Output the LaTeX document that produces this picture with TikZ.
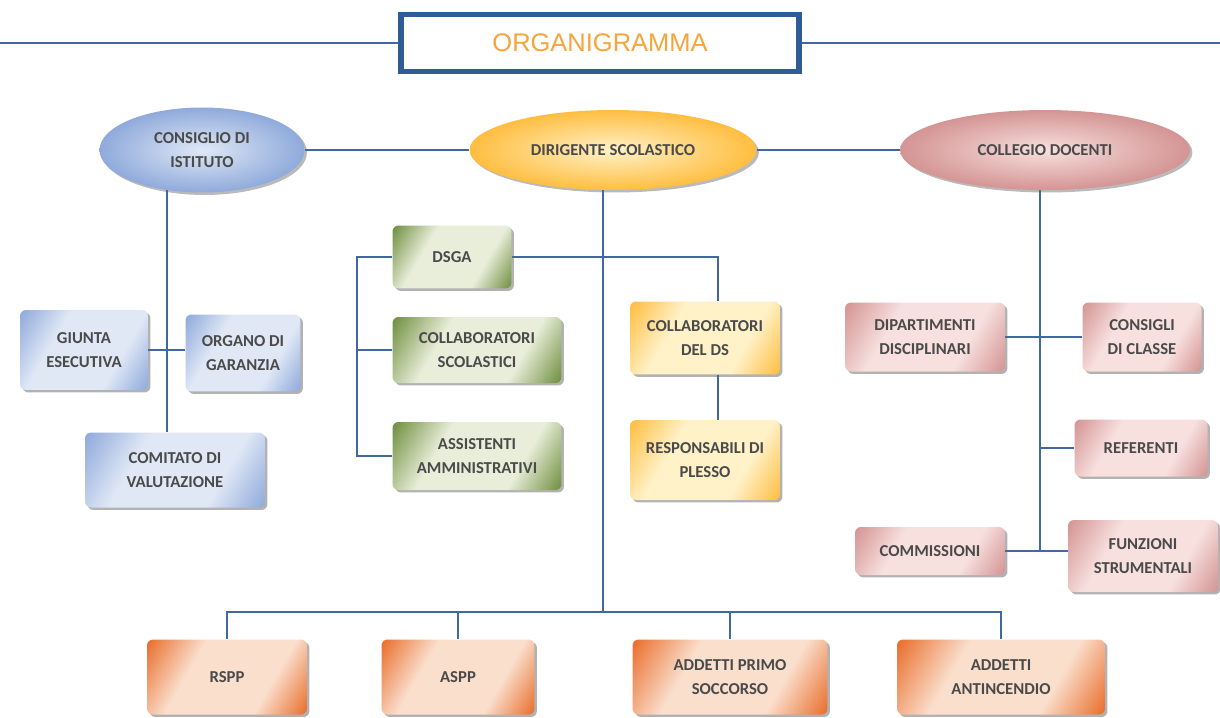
\documentclass[tikz,border=0pt]{standalone}
\usepackage{fontspec}
\setmainfont{Carlito}
\newfontfamily\titlefont{Liberation Sans}
\usetikzlibrary{shapes.geometric,shadows,backgrounds}

\definecolor{linkblue}{HTML}{41699F}
\definecolor{framebl}{HTML}{2F5C94}
\definecolor{titleor}{HTML}{F5A53A}
\definecolor{txtgray}{HTML}{4A4A4A}
\definecolor{bluedark}{HTML}{8FAADB}
\definecolor{bluelight}{HTML}{E0E8F6}
\definecolor{greendark}{HTML}{6F8F3F}
\definecolor{greenlight}{HTML}{E9EEDA}
\definecolor{yeldark}{HTML}{FFBE40}
\definecolor{yellight}{HTML}{FFF1C8}
\definecolor{pinkdark}{HTML}{D49494}
\definecolor{pinklight}{HTML}{F7E0DE}
\definecolor{oradark}{HTML}{E96E2C}
\definecolor{oralight}{HTML}{FADFCD}

\colorlet{unitdark}{bluedark}
\colorlet{unitlight}{bluelight}
\pgfdeclareverticalshading[unitdark,unitlight]{unitshade}{100bp}{color(0bp)=(unitdark); color(16bp)=(unitdark);
  color(34bp)=(unitlight); color(64bp)=(unitlight); color(84bp)=(unitdark); color(100bp)=(unitdark)}

\tikzset{
  unit/.style={rounded corners=3.4pt, align=center, inner sep=0pt, text=txtgray,
    font=\bfseries\fontsize{9.5}{14}\selectfont, shading=unitshade, shading angle=60,
    drop shadow={shadow xshift=1.4pt, shadow yshift=-1.4pt, opacity=0.5, fill=black!60}},
  organ/.style={ellipse, align=center, inner sep=0pt, text=txtgray,
    font=\bfseries\fontsize{9.5}{14}\selectfont,
    drop shadow={shadow xshift=1.4pt, shadow yshift=-1.4pt, opacity=0.45, fill=black!60}},
  paint/.style 2 args={/utils/exec={\colorlet{unitdark}{#1}\colorlet{unitlight}{#2}}},
  blueunit/.style={paint={bluedark}{bluelight}, unit},
  greenunit/.style={paint={greendark}{greenlight}, unit},
  yelunit/.style={paint={yeldark}{yellight}, unit},
  pinkunit/.style={paint={pinkdark}{pinklight}, unit},
  oraunit/.style={paint={oradark}{oralight}, unit},
  link/.style={draw=linkblue, line width=1.4pt}
}

\begin{document}
\begin{tikzpicture}[x=0.02cm, y=-0.02cm]
  \useasboundingbox (0,0) rectangle (1220,717);

  \node[draw=framebl, line width=3.4pt, fill=white, minimum width=7.96cm, minimum height=1.14cm,
    text=titleor, font=\titlefont\fontsize{14.5}{16}\selectfont] (title) at (600,43) {ORGANIGRAMMA};

  % organi collegiali
  \node[organ, inner color=bluelight, outer color=bluedark, minimum width=4.1cm, minimum height=1.7cm]
    (cdi) at (202,150) {CONSIGLIO DI\\ISTITUTO};
  \node[organ, inner color=yellight, outer color=yeldark, minimum width=5.74cm, minimum height=1.6cm]
    (ds) at (613,150) {DIRIGENTE SCOLASTICO};
  \node[organ, inner color=pinklight, outer color=pinkdark, minimum width=5.8cm, minimum height=1.6cm]
    (cd) at (1045,150) {COLLEGIO DOCENTI};

  % consiglio di istituto
  \node[blueunit, minimum width=2.56cm, minimum height=1.6cm] (giu) at (84,350) {GIUNTA\\ESECUTIVA};
  \node[blueunit, minimum width=2.3cm, minimum height=1.54cm] (org) at (243,353) {ORGANO DI\\GARANZIA};
  \node[blueunit, minimum width=3.6cm, minimum height=1.5cm] (com) at (175,470) {COMITATO DI\\VALUTAZIONE};

  % dsga
  \node[greenunit, minimum width=2.38cm, minimum height=1.26cm] (dsga) at (452,257) {DSGA};
  \node[greenunit, minimum width=3.38cm, minimum height=1.32cm] (csco) at (477,350) {COLLABORATORI\\SCOLASTICI};
  \node[greenunit, minimum width=3.38cm, minimum height=1.36cm] (assi) at (477,456) {ASSISTENTI\\AMMINISTRATIVI};

  % staff del ds
  \node[yelunit, minimum width=3cm, minimum height=1.46cm] (cds) at (705,338) {COLLABORATORI\\DEL DS};
  \node[yelunit, minimum width=3cm, minimum height=1.6cm] (resp) at (705,460) {RESPONSABILI DI\\PLESSO};

  % collegio docenti
  \node[pinkunit, minimum width=3.2cm, minimum height=1.38cm] (dip) at (925,337) {DIPARTIMENTI\\DISCIPLINARI};
  \node[pinkunit, minimum width=2.38cm, minimum height=1.38cm] (ccl) at (1142,337) {CONSIGLI\\DI CLASSE};
  \node[pinkunit, minimum width=2.66cm, minimum height=1.14cm] (ref) at (1141,448) {REFERENTI};
  \node[pinkunit, minimum width=3cm, minimum height=0.96cm] (comm) at (930,551) {COMMISSIONI};
  \node[pinkunit, minimum width=3cm, minimum height=1.44cm] (funz) at (1143,556) {FUNZIONI\\STRUMENTALI};

  % sicurezza
  \foreach \n/\x/\w/\t in {rspp/227/3.2/RSPP, aspp/458/3.06/ASPP,
      soc/730/3.9/{ADDETTI PRIMO\\SOCCORSO}, anti/1001/4.16/{ADDETTI\\ANTINCENDIO}}
    \node[oraunit, minimum width=\w cm, minimum height=1.5cm] (\n) at (\x,677) {\t};

  \coordinate (tl) at (0,43);
  \coordinate (tr) at (1220,43);
  \coordinate (cistem) at (167,150);
  \coordinate (dstem) at (603,150);
  \coordinate (bus) at (603,612);
  \coordinate (gbar) at (357,258);
  \coordinate (cstem) at (1040,150);

  \begin{pgfonlayer}{background}
    \fill[white] (0,0) rectangle (1220,717);
    \draw[link] (tl) -- (title.west) (title.east) -- (tr);
    \draw[link] (cdi) -- (ds) -- (cd);
    \draw[link] (cistem) -- (cistem |- com.north);
    \draw[link] (giu.east) -- (giu.east -| org.west);
    \draw[link] (dstem) -- (bus);
    \draw[link] (rspp.north) |- (bus) -| (anti.north);
    \foreach \n in {aspp,soc}
      \draw[link] (\n.north) -- (\n.north |- bus);
    \draw[link] (dsga.west) -| (gbar |- assi.west) -- (assi.west);
    \draw[link] (csco.west) -- (csco.west -| gbar);
    \draw[link] (dsga.east) -| ([xshift=0.26cm]cds.north);
    \draw[link] ([xshift=0.26cm]cds.south) -- ([xshift=0.26cm]resp.north);
    \draw[link] (cstem) -- (cstem |- comm.east);
    \draw[link] (dip.east) -- (ccl.west);
    \draw[link] (cstem |- ref.west) -- (ref.west);
    \draw[link] (comm.east) -- (comm.east -| funz.west);
  \end{pgfonlayer}
\end{tikzpicture}
\end{document}
